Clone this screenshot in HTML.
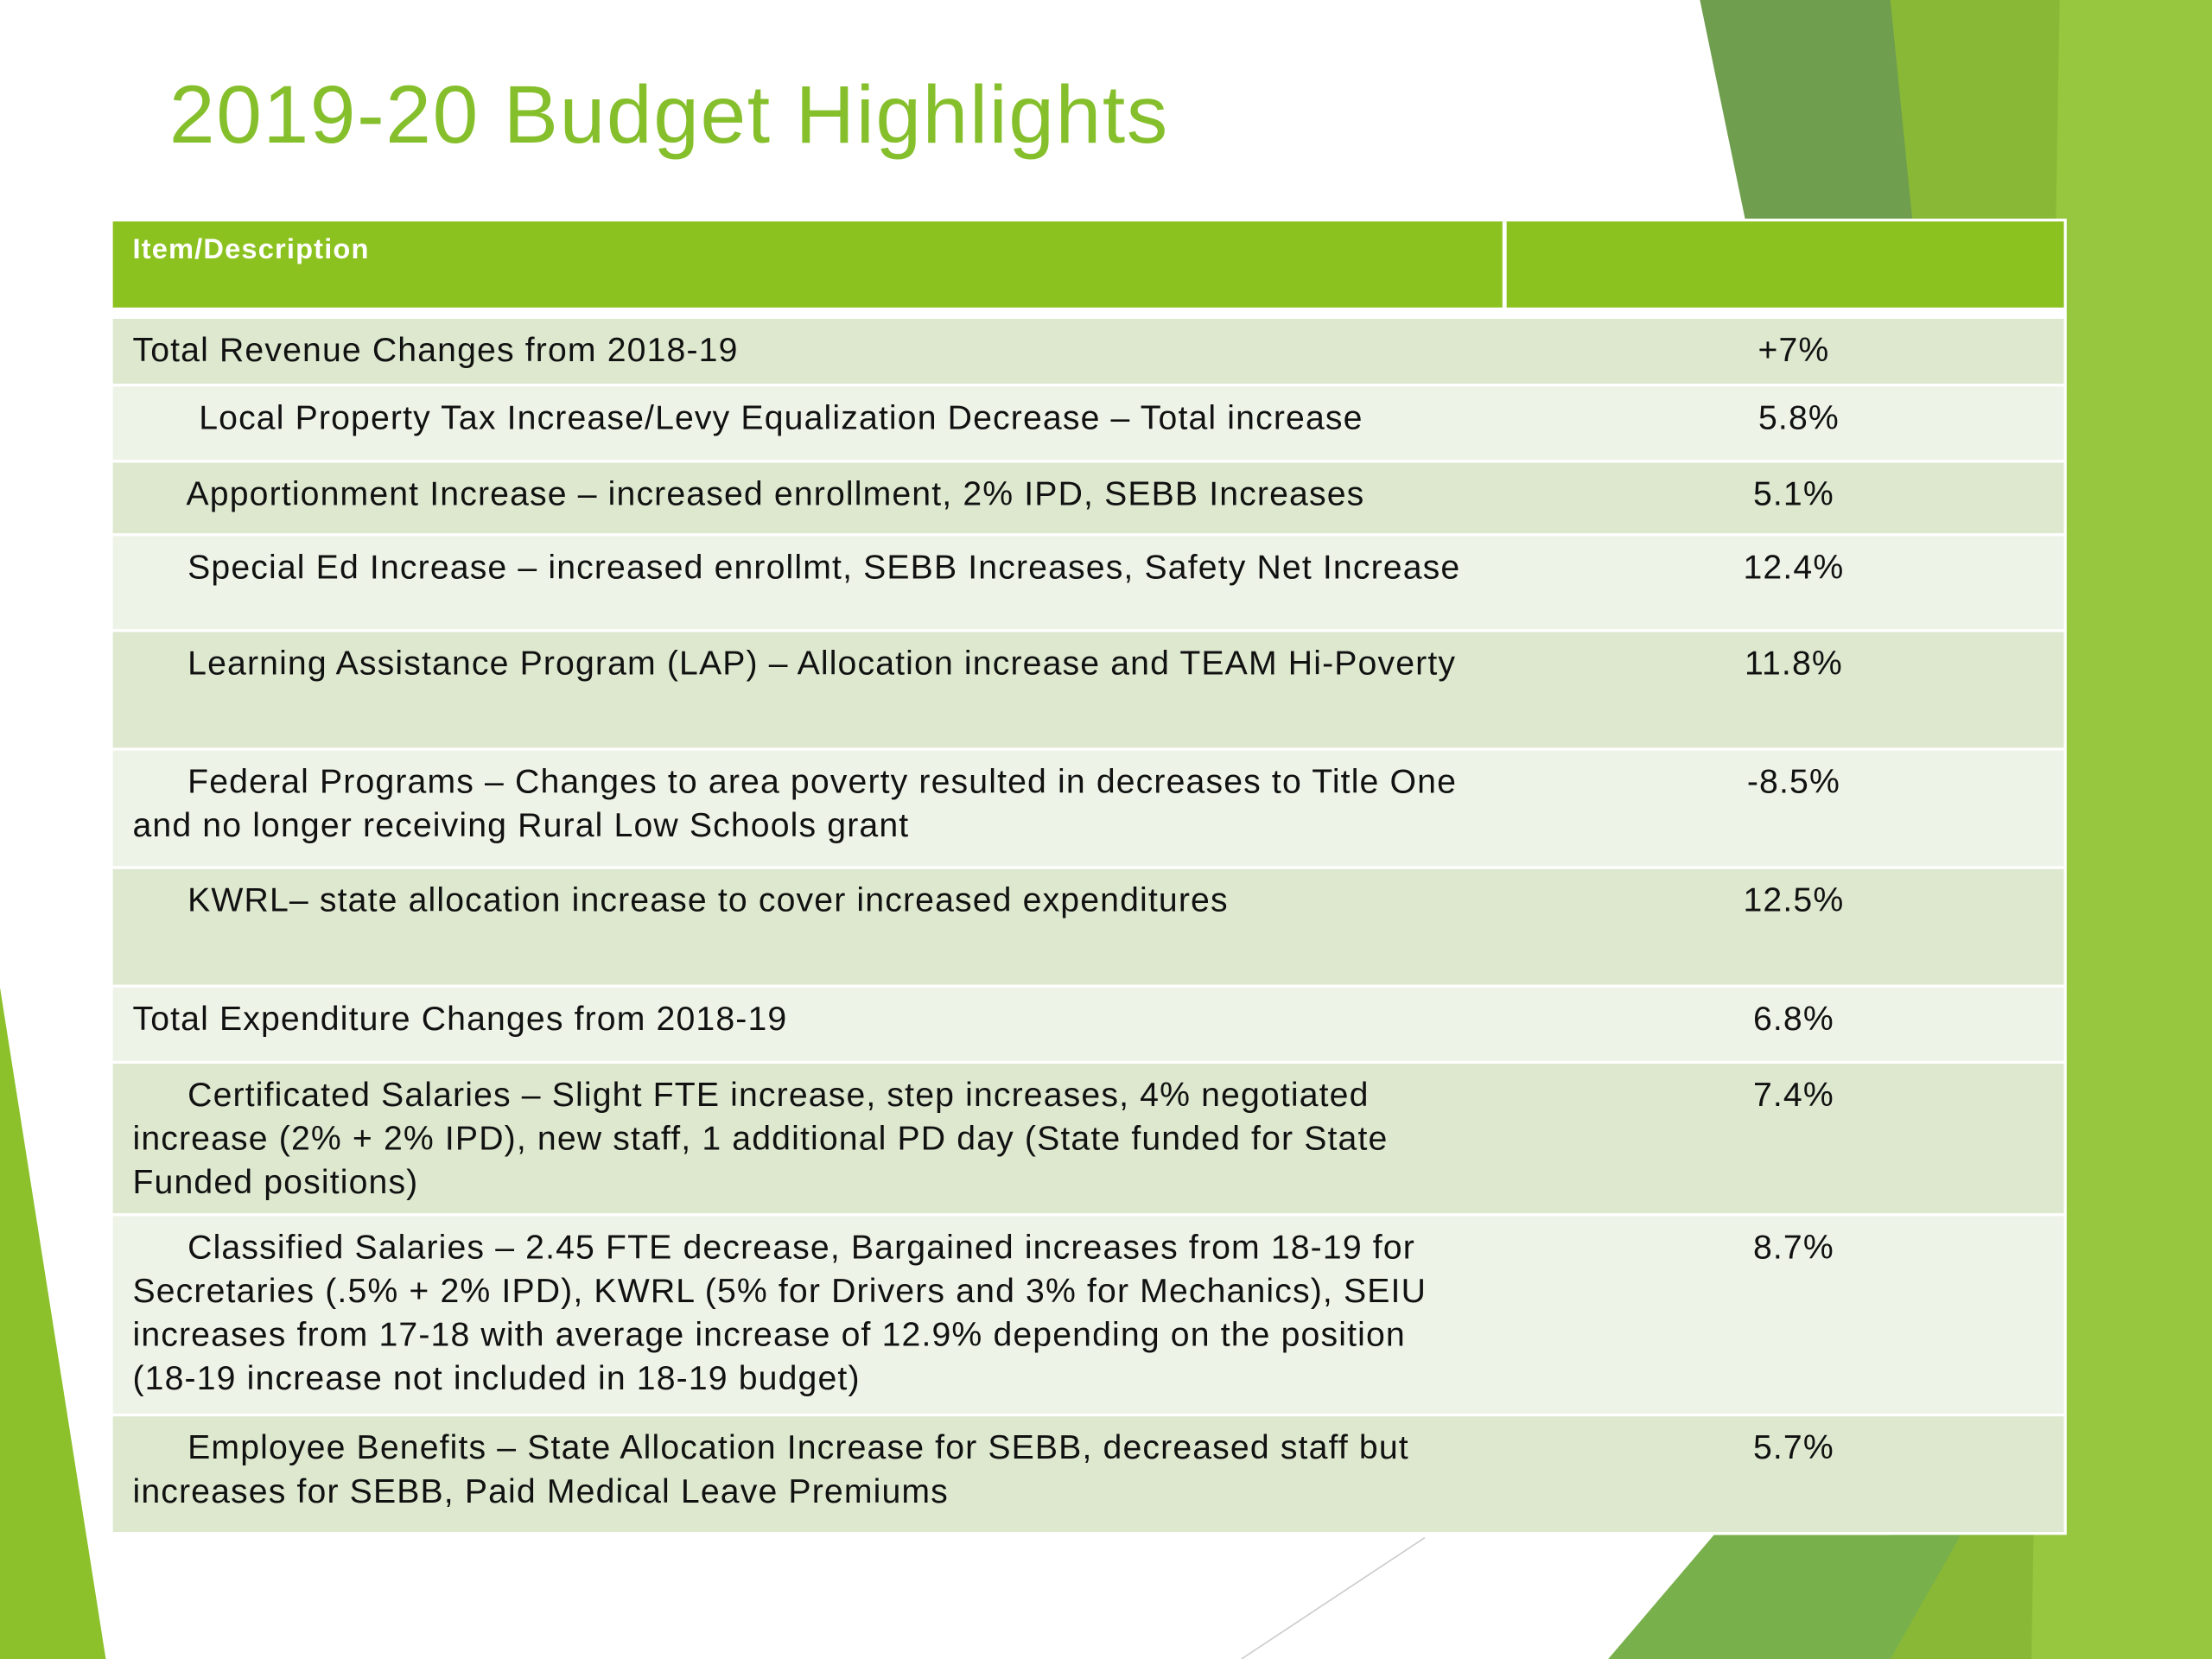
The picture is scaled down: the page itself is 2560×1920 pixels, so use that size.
<!DOCTYPE html>
<html><head><meta charset="utf-8">
<style>
html,body{margin:0;padding:0;}
body{width:2560px;height:1920px;overflow:hidden;background:#fff;position:relative;}
#stage{position:absolute;left:0;top:0;width:1568px;height:1176px;transform:scale(1.632653);transform-origin:0 0;font-family:"Liberation Sans",sans-serif;}
.t{position:absolute;left:120px;top:48px;font-size:58px;letter-spacing:1px;color:#86bf2c;white-space:nowrap;}
.row{position:absolute;left:80px;width:1383px;box-sizing:border-box;}
.c1{position:absolute;left:0;top:0;bottom:0;width:975px;padding:7px 0 0 14px;box-sizing:border-box;font-size:24px;letter-spacing:0.7px;line-height:31px;color:#111;}
.c2{position:absolute;left:988px;right:0;top:0;bottom:0;padding-top:7px;padding-left:12px;text-align:center;font-size:24px;letter-spacing:0.7px;line-height:31px;color:#111;}
.d{background:#dde8cf;}
.l{background:#edf3e7;}
.nw{white-space:nowrap;}
</style></head><body>
<div id="stage">
<svg width="1568" height="1176" style="position:absolute;left:0;top:0">
<polygon points="1330,0 1568,0 1568,1176 1340,1176" fill="#88b836"/>
<polygon points="1460,0 1568,0 1568,1176 1440,1176" fill="#97c63f"/>
<polygon points="1205,0 1340,0 1356,160 1238,160" fill="#6f9e4e"/>
<polygon points="1140,1176 1215,1088 1390,1088 1340,1176" fill="#78b04c"/>
<polygon points="0,700 75,1176 0,1176" fill="#8cc12c"/>
<line x1="880" y1="1176" x2="1010" y2="1090" stroke="#ccc" stroke-width="1"/>
</svg>
<div class="t">2019-20 Budget Highlights</div>
<div style="position:absolute;left:78px;top:155px;width:1387px;height:933px;background:#fff"></div>
<div class="row" style="top:157px;height:61px;background:#8cc21f">
<div style="position:absolute;left:14px;top:9px;font-size:20px;letter-spacing:0.7px;font-weight:bold;color:#fff">Item/Description</div>
<div style="position:absolute;left:985px;top:0;width:3px;height:61px;background:#fff"></div>
</div>
<div class="row d" style="top:226px;height:46px"><div class="c1">Total Revenue Changes from 2018-19</div><div class="c2">+7%</div></div>
<div class="row l" style="top:274px;height:52px"><div class="c1" style="text-indent:47px">Local Property Tax Increase/Levy Equalization Decrease – Total increase</div><div class="c2">&nbsp;5.8%</div></div>
<div class="row d" style="top:328px;height:50px"><div class="c1" style="text-indent:38px">Apportionment Increase – increased enrollment, 2% IPD, SEBB Increases</div><div class="c2">5.1%</div></div>
<div class="row l" style="top:380px;height:66px"><div class="c1" style="text-indent:39px">Special Ed Increase – increased enrollmt, SEBB Increases, Safety Net Increase</div><div class="c2">12.4%</div></div>
<div class="row d" style="top:448px;height:82px"><div class="c1" style="text-indent:39px">Learning Assistance Program (LAP) – Allocation increase and TEAM Hi-Poverty</div><div class="c2">11.8%</div></div>
<div class="row l" style="top:532px;height:82px"><div class="c1" style="text-indent:39px">Federal Programs – Changes to area poverty resulted in decreases to Title One and no longer receiving Rural Low Schools grant</div><div class="c2">-8.5%</div></div>
<div class="row d" style="top:616px;height:82px"><div class="c1" style="text-indent:39px">KWRL– state allocation increase to cover increased expenditures</div><div class="c2">12.5%</div></div>
<div class="row l" style="top:700px;height:52px"><div class="c1">Total Expenditure Changes from 2018-19</div><div class="c2">6.8%</div></div>
<div class="row d" style="top:754px;height:106px"><div class="c1" style="text-indent:39px">Certificated Salaries – Slight FTE increase, step increases, 4% negotiated increase (2% + 2% IPD), new staff, 1 additional PD day (State funded for State Funded positions)</div><div class="c2">7.4%</div></div>
<div class="row l" style="top:862px;height:140px"><div class="c1" style="text-indent:39px">Classified Salaries – 2.45 FTE decrease, Bargained increases from 18-19 for Secretaries (.5% + 2% IPD), KWRL (5% for Drivers and 3% for Mechanics), SEIU increases from 17-18 with average increase of 12.9% depending on the position <span class="nw">(18-19</span> increase not included in 18-19 budget)</div><div class="c2">8.7%</div></div>
<div class="row d" style="top:1004px;height:82px"><div class="c1" style="text-indent:39px">Employee Benefits – State Allocation Increase for SEBB, decreased staff but increases for SEBB, Paid Medical Leave Premiums</div><div class="c2">5.7%</div></div>
</div>
</body></html>
